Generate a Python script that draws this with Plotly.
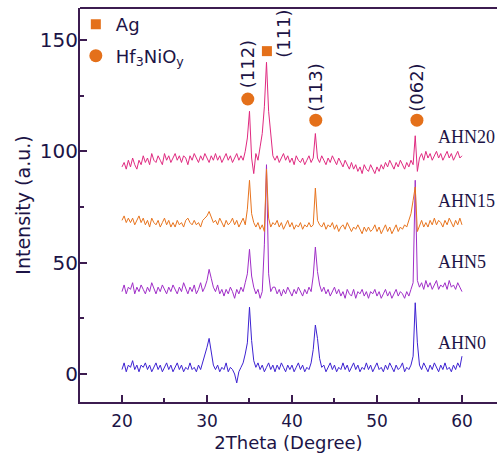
import plotly.graph_objects as go

# 2-theta scan grid (degrees), 0.25 deg step from 20 to 60
two_theta = [20 + 0.25 * i for i in range(161)]

ahn0 = [
    2, 5, 1, 4,   3, 6, 2, 4,   1, 4, 3, 5,   2, 4, 1, 3,   5, 2, 4, 1,
    3, 5, 2, 4,   1, 3, 5, 2,   4, 1, 3, 2,   5, 2, 3, 1,   4, 2, 5, 8,
    12, 16, 9, 4, 2, 4, 1, 3,   2, 5, 1, 3,   2, 0, -4, 1,  3, 5, 9, 14,
    30, 15, 6, 3, 5, 2, 4, 1,   3, 5, 2, 4,   1, 4, 2, 5,   3, 1, 4, 2,
    4, 1, 3, 5,   2, 4, 1, 3,   2, 5, 11, 22, 16, 7, 3, 4,  1, 3, 5, 2,
    4, 1, 3, 2,   5, 2, 4, 1,   3, 5, 2, 4,   1, 3, 2, 5,   2, 4, 1, 3,
    5, 2, 3, 1,   4, 2, 5, 3,   1, 4, 2, 3,   5, 1, 3, 2,   4, 8, 32, 14,
    4, 2, 5, 3,   1, 4, 2, 5,   3, 1, 4, 2,   5, 2, 3, 1,   4, 2, 5, 3,
    8,
]

ahn5 = [
    37, 40, 36, 39, 38, 41, 36, 39, 37, 40, 38, 36, 39, 37, 41, 38, 36, 39, 37, 40,
    38, 36, 39, 37, 40, 38, 36, 39, 37, 41, 38, 36, 39, 37, 40, 36, 38, 41, 37, 39,
    42, 47, 43, 39, 37, 40, 36, 38, 35, 38, 36, 39, 37, 34, 38, 36, 39, 37, 41, 45,
    56, 44, 39, 36, 38, 34, 37, 58, 94, 45, 37, 39, 39, 36, 38, 35, 38, 36, 39, 37,
    35, 38, 36, 39, 37, 35, 38, 36, 39, 37, 44, 57, 46, 40, 37, 39, 36, 38, 35, 37,
    39, 36, 38, 35, 37, 34, 38, 36, 35, 38, 34, 37, 36, 38, 35, 37, 34, 37, 36, 38,
    35, 37, 34, 36, 38, 35, 37, 34, 36, 38, 35, 37, 36, 34, 37, 35, 38, 41, 87, 42,
    39, 41, 38, 42, 39, 41, 38, 40, 42, 38, 40, 39, 41, 38, 42, 39, 40, 38, 41, 39,
    37,
]

ahn15 = [
    69, 71, 68, 70, 68, 70, 67, 69, 71, 68, 70, 67, 69, 66, 70, 68, 67, 69, 66, 68,
    70, 67, 69, 66, 68, 66, 69, 67, 68, 66, 69, 70, 68, 67, 69, 67, 68, 66, 69, 70,
    71, 73, 70, 68, 69, 67, 70, 68, 66, 69, 67, 68, 70, 67, 69, 66, 68, 70, 67, 74,
    87, 72, 68, 66, 68, 65, 67, 64, 92, 70, 66, 68, 67, 69, 66, 68, 65, 67, 69, 66,
    68, 65, 67, 66, 68, 65, 67, 66, 68, 66, 67, 83.5, 69, 67, 66, 68, 65, 67, 66, 68,
    65, 67, 64, 66, 67, 65, 68, 66, 64, 66, 65, 67, 65, 63, 66, 64, 66, 64, 65, 67,
    64, 66, 63, 65, 67, 64, 66, 63, 65, 67, 64, 66, 65, 67, 66, 69, 72, 78, 84, 64,
    67, 69, 66, 68, 66, 69, 67, 70, 67, 69, 68, 66, 69, 67, 70, 68, 66, 69, 67, 70,
    67,
]

ahn20 = [
    93, 95, 92, 96, 93, 97, 94, 92, 96, 94, 98, 95, 97, 94, 99, 96, 95, 98, 96, 94,
    99, 96, 98, 95, 97, 99, 96, 98, 95, 98, 97, 94, 98, 96, 99, 97, 95, 98, 96, 99,
    97, 95, 98, 96, 99, 96, 98, 95, 97, 99, 96, 98, 95, 97, 99, 96, 98, 96, 100, 106,
    118, 97, 90, 99, 96, 102, 108, 120, 140, 118, 106, 98, 96, 98, 95, 97, 99, 96, 98, 95,
    97, 94, 98, 96, 95, 97, 94, 96, 98, 95, 97, 108, 97, 95, 98, 96, 94, 97, 95, 98,
    96, 94, 97, 95, 93, 96, 94, 92, 95, 92, 94, 91, 93, 90, 94, 92, 91, 94, 92, 90,
    93, 91, 94, 92, 95, 93, 96, 94, 92, 95, 93, 96, 94, 92, 95, 93, 96, 94, 107, 91,
    97, 99, 96, 100, 97, 99, 96, 98, 100, 97, 99, 96, 98, 100, 97, 99, 96, 98, 100, 97,
    98,
]

series_names = ["AHN0", "AHN5", "AHN15", "AHN20"]
series_values = [ahn0, ahn5, ahn15, ahn20]
series_colors = ["#3d22d2", "#a02ec8", "#e8741e", "#e02a80"]

# Sample-name labels (x, y in data units)
label_x = [56.9, 56.9, 56.9, 56.9]
label_y = [14, 50.5, 77.5, 106.5]

# Phase markers
ag_x = [37.05]
ag_y = [145]
hf_x = [34.8, 42.8, 54.7]
hf_y = [123.5, 114, 114]

# Miller-index labels
hkl_text = ["(112)", "(111)", "(113)", "(062)"]
hkl_x = [34.8, 39.0, 42.8, 54.7]
hkl_y = [139, 153, 128.5, 128.5]

axis_color = "#3c1c50"
text_color = "#1c1446"
marker_color = "#e4701a"
sans = "DejaVu Sans"

fig = go.Figure()

for name, vals, col in zip(series_names, series_values, series_colors):
    fig.add_trace(go.Scatter(
        x=two_theta, y=vals, mode="lines", name=name,
        line=dict(color=col, width=1), showlegend=False,
    ))

fig.add_trace(go.Scatter(
    x=ag_x, y=ag_y, mode="markers", name="Ag", legendgroup="ag",
    marker=dict(symbol="square", size=10, color=marker_color),
))
fig.add_trace(go.Scatter(
    x=hf_x, y=hf_y, mode="markers", name="Hf<sub>3</sub>NiO<sub>y</sub>", legendgroup="hf",
    marker=dict(symbol="circle", size=13, color=marker_color),
))

for t, x, y in zip(hkl_text, hkl_x, hkl_y):
    fig.add_annotation(x=x, y=y, text=t, textangle=-90, showarrow=False,
                       font=dict(family=sans, size=18, color=text_color))

for t, x, y in zip(series_names, label_x, label_y):
    fig.add_annotation(x=x, y=y, text=t, showarrow=False, xanchor="left",
                       font=dict(family="Liberation Serif", size=18, color=text_color))

# top frame line of the plot area
fig.add_shape(type="line", xref="paper", yref="paper", x0=0, x1=1, y0=1, y1=1,
              line=dict(color=axis_color, width=2))

fig.update_layout(
    width=497, height=455,
    margin=dict(l=80, r=0, t=8, b=53, autoexpand=False),
    plot_bgcolor="white", paper_bgcolor="white",
    font=dict(family=sans, color=text_color),
    legend=dict(x=-0.01, y=1.005, xanchor="left", yanchor="top",
                bgcolor="rgba(0,0,0,0)", font=dict(family=sans, size=18, color=text_color),
                itemwidth=30, tracegroupgap=5),
    xaxis=dict(
        range=[15.06, 64.12], tick0=20, dtick=10, automargin=False,
        ticks="inside", ticklen=7, tickwidth=2, tickcolor=axis_color,
        minor=dict(dtick=5, ticks="inside", ticklen=4, tickwidth=2, tickcolor=axis_color),
        showline=True, linewidth=2, linecolor=axis_color, mirror=False,
        showgrid=False, zeroline=False, ticklabelstandoff=3,
        tickfont=dict(family=sans, size=17, color=text_color),
        title=dict(text="2Theta (Degree)", font=dict(family=sans, size=18, color=text_color), standoff=6),
    ),
    yaxis=dict(
        range=[-12.57, 164.37], tick0=0, dtick=50, automargin=False,
        ticks="inside", ticklen=7, tickwidth=2, tickcolor=axis_color,
        minor=dict(dtick=25, ticks="inside", ticklen=4, tickwidth=2, tickcolor=axis_color),
        showline=True, linewidth=2, linecolor=axis_color, mirror=False,
        showgrid=False, zeroline=False, ticklabelstandoff=-4,
        tickfont=dict(family=sans, size=20, color=text_color),
        title=dict(text="Intensity (a.u.)", font=dict(family=sans, size=19, color=text_color), standoff=4),
    ),
)

fig.write_html(
    "out.html",
    config={"displayModeBar": False},
    post_script="document.body.style.margin='0';document.body.style.overflow='hidden';",
)
